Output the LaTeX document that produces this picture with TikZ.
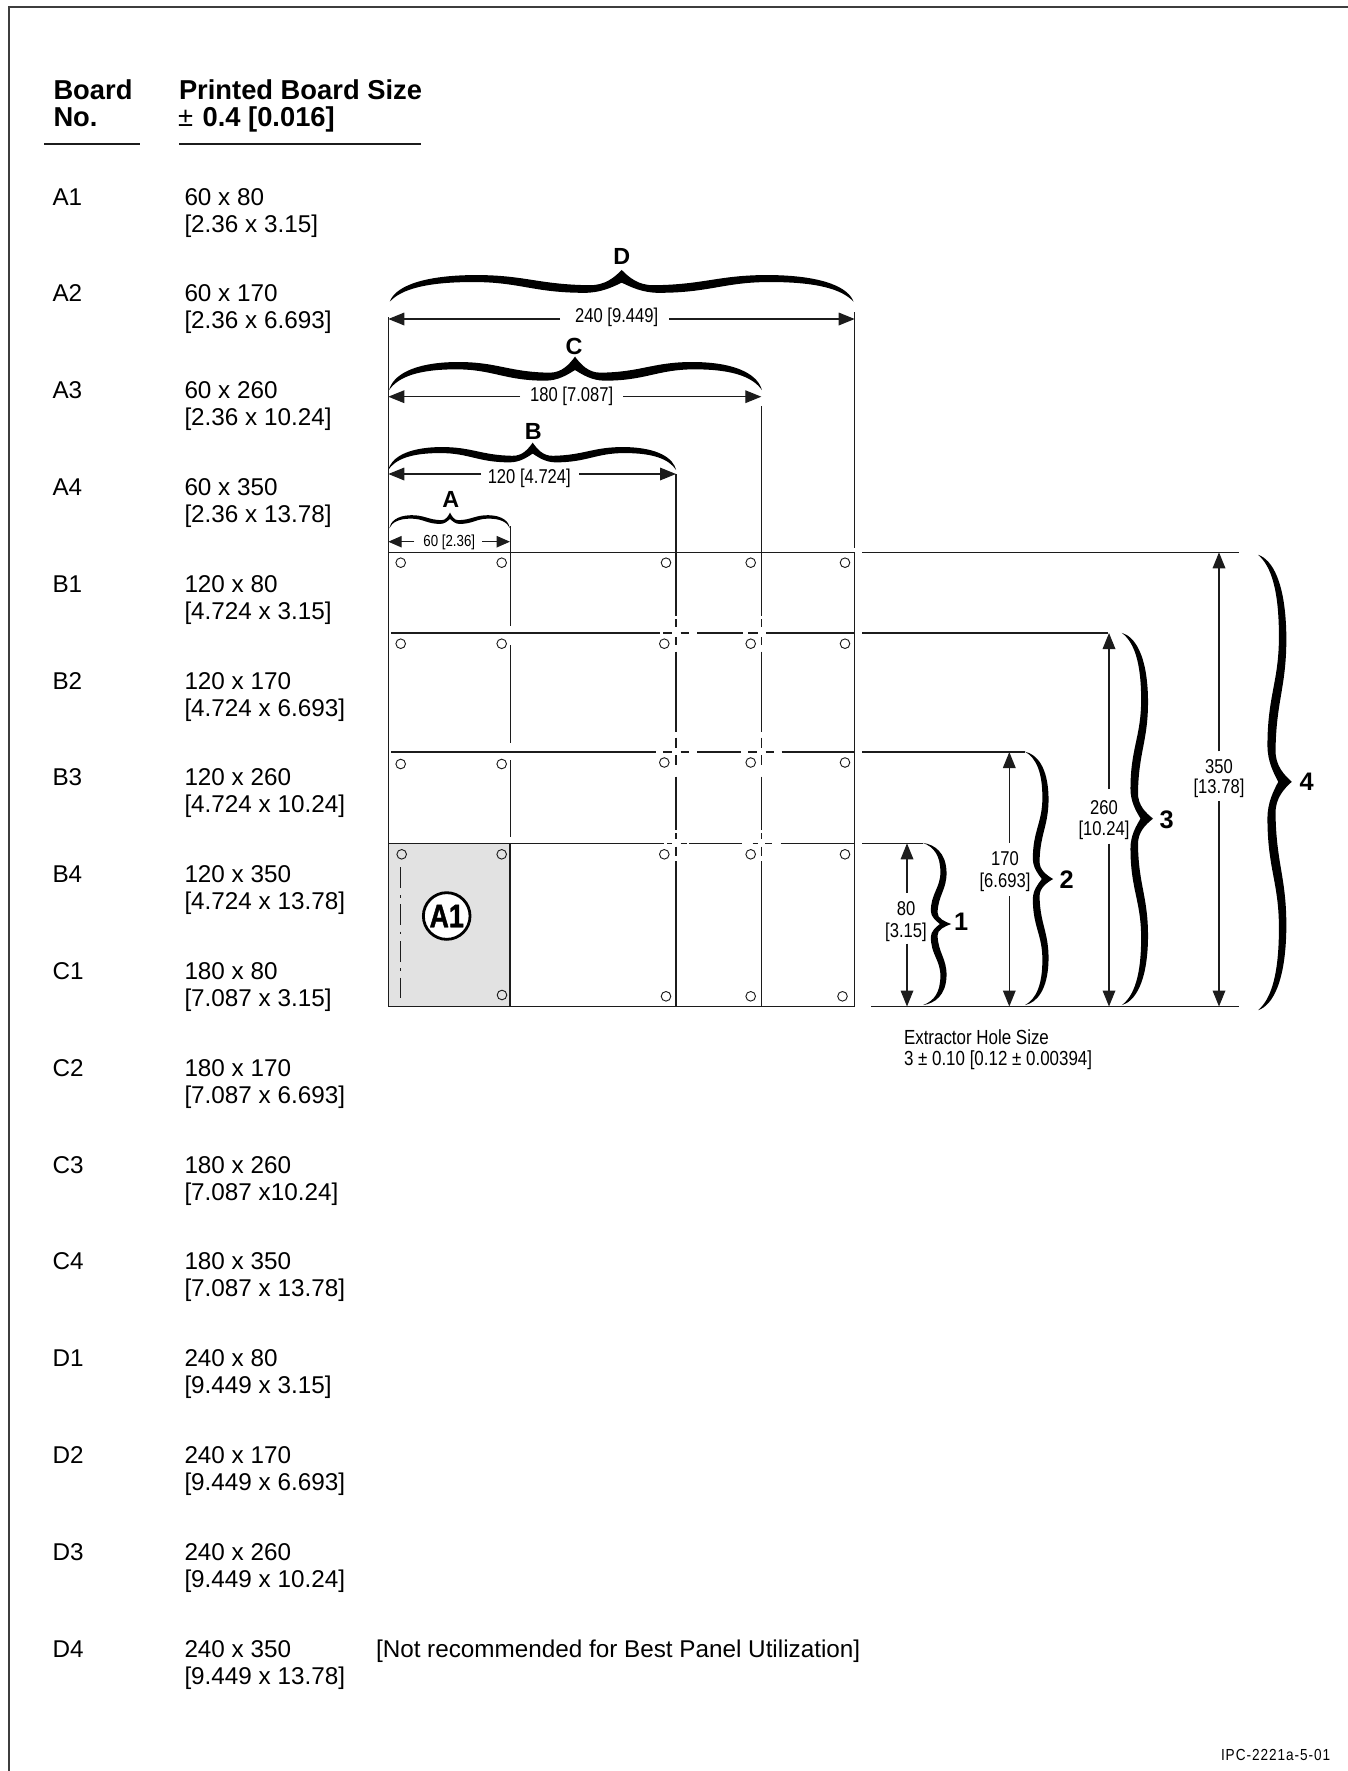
\documentclass[tikz,border=0pt]{standalone}
\usepackage{fontspec}
\usetikzlibrary{arrows.meta}
\setmainfont{Liberation Sans}
\newfontfamily\condf[FakeStretch=0.83]{Liberation Sans}
\newfontfamily\condbf[FakeStretch=0.82,FakeBold=1.2]{Liberation Sans Bold}
\newfontfamily\ipcf[FakeStretch=0.85,LetterSpace=6]{Liberation Sans}
\definecolor{ink}{HTML}{1C1C1C}
\definecolor{bluegray}{HTML}{E2E2E2}
\tikzset{
  txt/.style={anchor=base west,inner sep=0pt,outer sep=0pt,text=black},
  tabletxt/.style={txt,font=\fontsize{18.2}{18.2}\selectfont},
  headtxt/.style={txt,font=\fontsize{20.5}{20.5}\selectfont\bfseries},
  dimtxt/.style={anchor=base,inner sep=0pt,outer sep=0pt,font=\fontsize{15}{15}\selectfont\condf},
  smalldim/.style={dimtxt,font=\fontsize{12}{12}\selectfont\condf},
  notetxt/.style={txt,font=\fontsize{15.3}{15.3}\selectfont\condf},
  lettertxt/.style={anchor=base,inner sep=0pt,outer sep=0pt,font=\fontsize{17.5}{17.5}\selectfont\bfseries},
  numtxt/.style={txt,font=\fontsize{19}{19}\selectfont\bfseries},
  gridline/.style={draw=ink,line width=1.1pt},
  rule/.style={draw=ink,line width=1pt},
  extline/.style={draw=ink,line width=1.1pt},
  dimarrow/.style={draw=ink,line width=.9pt,-{Triangle[length=12pt,width=9.5pt]}},
  smallarrow/.style={draw=ink,line width=.9pt,-{Triangle[length=10pt,width=8.5pt]}},
  hole/.style={circle,draw=ink,line width=.7pt,minimum size=7.2pt,inner sep=0pt},
  frameline/.style={draw=ink!85,line width=1pt},
  bracefill/.style={fill=black,draw=none},
}
\newcommand\halfbr[6]{\begin{scope}[shift={(#1,#2)},x={(#3 pt,#4 pt)},y={(#5 pt,#6 pt)}]
 \fill[bracefill] (100,0) .. controls (98,42) and (88,82) .. (64,84) .. controls (42,85) and (36,54) .. (14,52) .. controls (7,51) and (3,78) .. (0,100) -- (-.6,60) -- (0,60) .. controls (4,46) and (9,28) .. (16,28) .. controls (38,28) and (44,62) .. (64,62) .. controls (84,62) and (95,40) .. (100,0) -- cycle;
\end{scope}}
% xL xR yEnd yTip xTip
\newcommand\hbr[5]{\pgfmathsetmacro\la{(#5-#1)*.0075}\pgfmathsetmacro\lb{(#2-#5)*.0075}\pgfmathsetmacro\hh{(#3-#4)*.0075}%
 \halfbr{#5}{#3}{-\la}{0}{0}{\hh}\halfbr{#5}{#3}{\lb}{0}{0}{\hh}}
% yT yB xEnd xTip yTip
\newcommand\vbr[5]{\pgfmathsetmacro\la{(#5-#1)*.0075}\pgfmathsetmacro\lb{(#2-#5)*.0075}\pgfmathsetmacro\hh{(#4-#3)*.0075}%
 \halfbr{#3}{#5}{0}{\la}{\hh}{0}\halfbr{#3}{#5}{0}{-\lb}{\hh}{0}}
% id xL xR y gapL gapR cx base text
\newcommand\hdim[9]{%
 \coordinate (#1L) at (#2,#4); \coordinate (#1R) at (#3,#4);
 \coordinate (#1gL) at (#5,#4); \coordinate (#1gR) at (#6,#4);
 \node[dimtxt] (#1t) at (#7,#8) {#9};
 \draw[dimarrow] (#1gL) -- (#1L); \draw[dimarrow] (#1gR) -- (#1R);}
% id x yTop yBot gapT gapB
\newcommand\vdim[6]{%
 \coordinate (#1T) at (#2,#3); \coordinate (#1B) at (#2,#4);
 \coordinate (#1gT) at (#2,#5); \coordinate (#1gB) at (#2,#6);
 \draw[dimarrow] (#1gT) -- (#1T); \draw[dimarrow] (#1gB) -- (#1B);}
\begin{document}
\begin{tikzpicture}[x=0.75pt,y=-0.75pt]
\useasboundingbox (0,0) rectangle (1348,1771);
\coordinate (frA) at (9,1771); \coordinate (frB) at (9,7); \coordinate (frC) at (1348,7);
\draw[frameline] (frA) -- (frB) -- (frC);

% table head
\node[headtxt] (hBoard) at (53.5,99) {Board};
\node[headtxt] (hNo) at (53.5,126) {No.};
\node[headtxt] (hSize) at (179,99) {Printed Board Size};
\node[headtxt] (hTol) at (178,126) {{\mdseries ±}\hspace{1.5pt} 0.4 [0.016]};
\coordinate (r1a) at (44,144); \coordinate (r1b) at (140,144);
\coordinate (r2a) at (179,144); \coordinate (r2b) at (421,144);
\draw[rule] (r1a) -- (r1b); \draw[rule] (r2a) -- (r2b);

% table rows
\foreach \i/\no/\sa/\sb in {
 0/A1/60 x 80/{[2.36 x 3.15]},
 1/A2/60 x 170/{[2.36 x 6.693]},
 2/A3/60 x 260/{[2.36 x 10.24]},
 3/A4/60 x 350/{[2.36 x 13.78]},
 4/B1/120 x 80/{[4.724 x 3.15]},
 5/B2/120 x 170/{[4.724 x 6.693]},
 6/B3/120 x 260/{[4.724 x 10.24]},
 7/B4/120 x 350/{[4.724 x 13.78]},
 8/C1/180 x 80/{[7.087 x 3.15]},
 9/C2/180 x 170/{[7.087 x 6.693]},
 10/C3/180 x 260/{[7.087 x10.24]},
 11/C4/180 x 350/{[7.087 x 13.78]},
 12/D1/240 x 80/{[9.449 x 3.15]},
 13/D2/240 x 170/{[9.449 x 6.693]},
 14/D3/240 x 260/{[9.449 x 10.24]},
 15/D4/240 x 350/{[9.449 x 13.78]}}{
  \pgfmathsetmacro\yy{205+\i*96.8}
  \node[tabletxt] (no\i) at (52.5,\yy) {\no};
  \node[tabletxt] (sa\i) at (184.5,\yy) {\sa};
  \node[tabletxt] (sb\i) at (184.5,\yy+27) {\sb};
}
\node[tabletxt] (note) at (376,1657) {[Not recommended for Best Panel Utilization]};
\node[txt,font=\fontsize{12}{12}\selectfont\ipcf] (ipc) at (1221,1760.7) {IPC-2221a-5-01};

% board A1 shading
\fill[bluegray] (388.3,843.3) rectangle (509.7,1006.7);

% grid: outer lines
\draw[gridline] (388.3,317) -- (388.3,1006.7) -- (854.7,1006.7) -- (854.7,552.3) -- (388.3,552.3);
\draw[extline] (854.7,312) -- (854.7,548);
\draw[extline] (761.3,406) -- (761.3,552.3);
\draw[extline] (676,474) -- (676,552.3);
\draw[extline] (510.3,526) -- (510.3,552.3);

% vertical board lines
\foreach \a/\b in {552.3/625.7,645/743.3,760/837.3}{\draw[gridline] (510.3,\a) -- (510.3,\b);}
\draw[gridline,line width=1.4pt] (509.7,843.3) -- (509.7,1006.7);
\foreach \xx in {676,761.3}{
 \foreach \a/\b in {552.3/615.7,619.3/627.3,637.3/645.3,651.7/732.3,737.7/747.7,755/765,776.7/830,833.3/839.3,846.7/855.7,861/1006.7}{
  \draw[gridline] (\xx,\a) -- (\xx,\b);}
}
% horizontal board lines
\foreach \a/\b in {391/660,663.3/672.3,680.7/689.3,697.3/742.7,748.3/758.3,766/854.7}{\draw[gridline] (\a,633) -- (\b,633);}
\foreach \a/\b in {391/656,663.3/672.3,680.7/689.3,697.3/740.7,748.3/757.3,765.7/774,781.7/854.7}{\draw[gridline] (\a,752) -- (\b,752);}
\foreach \a/\b in {388.3/664,667.3/672.3,680.7/686.7,689.3/741.7,752.7/758.3,765/772.3,780.7/854.7}{\draw[gridline] (\a,843.3) -- (\b,843.3);}

% right extension lines
\draw[extline] (862,552.3) -- (1239,552.3);
\draw[extline] (862,633) -- (1108,633);
\draw[extline] (862,752) -- (1025,752);
\draw[extline] (862,843.3) -- (923,843.3);
\draw[extline] (871,1006.5) -- (1239,1006.5);

% holes
\foreach \n/\xx/\yy in {
 a/400.7/562.7,b/501.7/562.7,c/666/562.7,d/750.7/562.7,e/845/562.7,
 f/400.7/643.7,g/501.7/643.7,h/664.3/643.7,i/750.7/643.7,j/845/643.7,
 k/400.7/764,l/501.7/764,m/664.3/762.5,n/750.7/762.5,o/845/762.5,
 p/401.7/854.3,q/501.7/854.3,r/664.3/854.3,s/750.7/854.3,t/845/854.3,
 u/502/995,v/666/996.3,w/750.7/996.3,z/842.5/996.3}{
  \node[hole] (h\n) at (\xx,\yy) {};
}

% centre line of board A1
\foreach \a/\b in {867.3/887.7,895/897.7,904.3/925,931.7/934.3,941/962.3,968.3/971,977.7/998.3}{\draw[draw=ink,line width=.9pt] (400.3,\a) -- (400.3,\b);}
\node[circle,draw=black,fill=white,line width=2.1pt,minimum size=35pt,inner sep=0pt,font=\fontsize{24.5}{24.5}\selectfont\condbf] (a1mark) at (446.7,916) {A1};

% horizontal dimensions
\hdim{dD}{388.3}{854.7}{319}{560}{669.3}{616.7}{322.7}{240 [9.449]}
\hdim{dC}{388.3}{761.3}{396.7}{520}{623.3}{571.7}{401.7}{180 [7.087]}
\hdim{dB}{388.3}{676}{474}{481}{579}{529.3}{483.5}{120 [4.724]}
\coordinate (dAL) at (388.3,541.7); \coordinate (dAR) at (510,541.7);
\coordinate (dAgL) at (414.3,541.7); \coordinate (dAgR) at (482.3,541.7);
\node[smalldim] (dAt) at (449.3,546) {60 [2.36]};
\draw[smallarrow] (dAgL) -- (dAL); \draw[smallarrow] (dAgR) -- (dAR);

% horizontal braces
\hbr{390}{853.3}{301.7}{270}{621.7}
\hbr{389.3}{761.7}{390}{356.7}{575}
\hbr{388.3}{676}{470}{442.7}{532.7}
\hbr{389.3}{510}{528.3}{512.7}{450}
\node[lettertxt] (lD) at (621.7,264.3) {D};
\node[lettertxt] (lC) at (574,354) {C};
\node[lettertxt] (lB) at (533.3,439) {B};
\node[lettertxt] (lA) at (450.7,507.7) {A};

% vertical dimensions
\vdim{v4}{1219}{552.3}{1006.5}{751.4}{801.4}
\node[dimtxt] (v4a) at (1219,773) {350};
\node[dimtxt] (v4b) at (1219,793.6) {[13.78]};
\vdim{v3}{1109}{633}{1006.5}{789}{843.6}
\node[dimtxt] (v3a) at (1104,814) {260};
\node[dimtxt] (v3b) at (1104,835.4) {[10.24]};
\vdim{v2}{1009.3}{752}{1006.5}{842.5}{896}
\node[dimtxt] (v2a) at (1005,865.7) {170};
\node[dimtxt] (v2b) at (1005,887) {[6.693]};
\vdim{v1}{907}{843.3}{1006.5}{892.5}{943.6}
\node[dimtxt] (v1a) at (906,915.7) {80};
\node[dimtxt] (v1b) at (906,937) {[3.15]};

% vertical braces
\vbr{555}{1010}{1258}{1291.7}{781.8}
\vbr{633}{1005}{1121.7}{1153}{818.6}
\vbr{751.8}{1005}{1025}{1053}{879}
\vbr{843}{1005}{923}{951}{924}
\node[numtxt] (n4) at (1299.5,790.7) {4};
\node[numtxt] (n3) at (1159.5,828) {3};
\node[numtxt] (n2) at (1059.5,888) {2};
\node[numtxt] (n1) at (954,930) {1};

\node[notetxt] (ex1) at (904,1044.5) {Extractor Hole Size};
\node[notetxt] (ex2) at (904,1065) {3 ± 0.10 [0.12 ± 0.00394]};
\end{tikzpicture}
\end{document}
